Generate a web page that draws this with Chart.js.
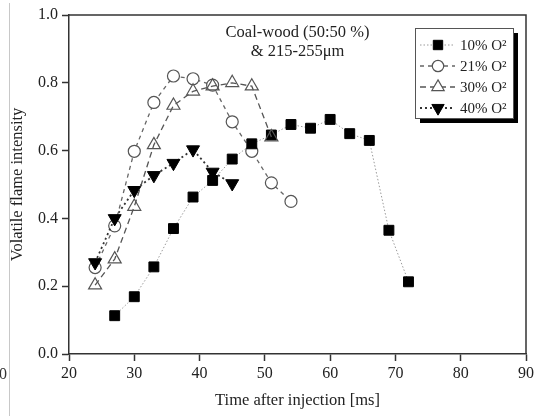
<!DOCTYPE html>
<html><head><meta charset="utf-8">
<script src="https://cdn.jsdelivr.net/npm/chart.js@4.4.1/dist/chart.umd.min.js"></script>
<style>html,body{margin:0;padding:0;background:#fff;}#wrap{width:539px;height:416px;}</style>
</head><body><div id="wrap"><canvas id="c" width="539" height="416"></canvas></div>
<script>
// ---- data ----
const xTicks = [20, 30, 40, 50, 60, 70, 80, 90];
const yTicks = [0, 0.2, 0.4, 0.6, 0.8, 1.0];
const t10 = [27, 30, 33, 36, 39, 42, 45, 48, 51, 54, 57, 60, 63, 66, 69, 72];
const v10 = [0.113, 0.169, 0.257, 0.370, 0.463, 0.512, 0.575, 0.620, 0.646, 0.677, 0.666, 0.692, 0.650, 0.630, 0.365, 0.213];
const t21 = [24, 27, 30, 33, 36, 39, 42, 45, 48, 51, 54];
const v21 = [0.255, 0.378, 0.598, 0.742, 0.820, 0.812, 0.793, 0.685, 0.598, 0.505, 0.450];
const t30 = [24, 27, 30, 33, 36, 39, 42, 45, 48, 51];
const v30 = [0.203, 0.280, 0.435, 0.617, 0.733, 0.775, 0.790, 0.800, 0.790, 0.640];
const t40 = [24, 27, 30, 33, 36, 39, 42, 45];
const v40 = [0.270, 0.400, 0.483, 0.527, 0.563, 0.603, 0.537, 0.503];
const seriesLabels = ['10% O²', '21% O²', '30% O²', '40% O²'];
const noteLines = ['Coal-wood (50:50 %)', '& 215-255μm'];
const xTitle = 'Time after injection [ms]';
const yTitle = 'Volatile flame intensity';
const strayText = '0';

const FONT = '"Liberation Serif", "Times New Roman", serif';
Chart.defaults.font.family = FONT;
Chart.defaults.font.size = 16;
Chart.defaults.color = '#222';

function pts(xs, ys) { return xs.map((x, i) => ({x: x, y: ys[i]})); }

const datasets = [
  {label: seriesLabels[0], data: pts(t10, v10), order: 2,
   borderColor: '#9a9a9a', borderWidth: 1, borderDash: [1.5, 2],
   pointStyle: 'rect', pointRadius: 7, pointBackgroundColor: '#000', pointBorderColor: '#000', pointBorderWidth: 1},
  {label: seriesLabels[1], data: pts(t21, v21), order: 3,
   borderColor: '#666', borderWidth: 1.3, borderDash: [4, 4],
   pointStyle: 'circle', pointRadius: 6, pointBackgroundColor: '#fff', pointBorderColor: '#555', pointBorderWidth: 1.2},
  {label: seriesLabels[2], data: pts(t30, v30), order: 0,
   borderColor: '#555', borderWidth: 1.3, borderDash: [6, 4],
   pointStyle: 'triangle', pointRadius: 7.5, pointBackgroundColor: 'rgba(255,255,255,0)', pointBorderColor: '#555', pointBorderWidth: 1.2},
  {label: seriesLabels[3], data: pts(t40, v40), order: 1,
   borderColor: '#333', borderWidth: 1.8, borderDash: [2, 3],
   pointStyle: 'triangle', pointRotation: 180, pointRadius: 7.5, pointBackgroundColor: '#000', pointBorderColor: '#000', pointBorderWidth: 1}
];
datasets.forEach(d => { d.showLine = true; d.fill = false; d.tension = 0; d.pointHoverRadius = d.pointRadius; });

function marker(ctx, style, rot, r, x, y, fillC, strokeC, lw) {
  ctx.save();
  ctx.fillStyle = fillC; ctx.strokeStyle = strokeC; ctx.lineWidth = lw; ctx.setLineDash([]);
  ctx.beginPath();
  if (style === 'rect') {
    const s = Math.SQRT1_2 * r; ctx.rect(x - s, y - s, 2 * s, 2 * s);
  } else if (style === 'circle') {
    ctx.arc(x, y, r, 0, Math.PI * 2);
  } else {
    let a = (rot || 0) * Math.PI / 180;
    ctx.moveTo(x + Math.sin(a) * r, y - Math.cos(a) * r);
    a += 2 * Math.PI / 3; ctx.lineTo(x + Math.sin(a) * r, y - Math.cos(a) * r);
    a += 2 * Math.PI / 3; ctx.lineTo(x + Math.sin(a) * r, y - Math.cos(a) * r);
    ctx.closePath();
  }
  ctx.fill(); ctx.stroke();
  ctx.restore();
}

const decor = {
  id: 'decor',
  beforeDraw(chart) {
    const ctx = chart.ctx;
    ctx.save();
    ctx.strokeStyle = '#c8c8c8'; ctx.lineWidth = 1;
    ctx.beginPath(); ctx.moveTo(9.5, 3); ctx.lineTo(9.5, 416); ctx.stroke();
    ctx.fillStyle = '#333'; ctx.font = '16px ' + FONT; ctx.textAlign = 'left'; ctx.textBaseline = 'middle';
    ctx.fillText(strayText, -1, 375);
    ctx.restore();
  },
  afterDraw(chart) {
    const ctx = chart.ctx, a = chart.chartArea;
    ctx.save();
    ctx.strokeStyle = '#333'; ctx.lineWidth = 1.5;
    ctx.beginPath(); ctx.moveTo(a.left, a.top); ctx.lineTo(a.right, a.top); ctx.lineTo(a.right, a.bottom); ctx.stroke();
    ctx.fillStyle = '#222'; ctx.font = '16.5px ' + FONT; ctx.textAlign = 'center'; ctx.textBaseline = 'alphabetic';
    const cx = (a.left + a.right) / 2;
    ctx.fillText(noteLines[0], cx, a.top + 22);
    ctx.fillText(noteLines[1], cx, a.top + 41);
    const bx = a.right - 111, by = a.top + 13, bw = 98, bh = 90;
    ctx.fillStyle = '#000';
    ctx.fillRect(bx + 5, by + 5, bw, bh);
    ctx.fillStyle = '#fff';
    ctx.fillRect(bx, by, bw, bh);
    ctx.strokeStyle = '#555'; ctx.lineWidth = 1;
    ctx.strokeRect(bx + 0.5, by + 0.5, bw, bh);
    chart.data.datasets.forEach((d, i) => {
      const yy = by + 17 + i * 21;
      ctx.save();
      ctx.strokeStyle = d.borderColor; ctx.lineWidth = d.borderWidth; ctx.setLineDash(d.borderDash || []);
      ctx.beginPath(); ctx.moveTo(bx + 5, yy); ctx.lineTo(bx + 40, yy); ctx.stroke();
      ctx.restore();
      marker(ctx, d.pointStyle, d.pointRotation, d.pointRadius * 0.95, bx + 23, yy,
             d.pointStyle === 'triangle' && !d.pointRotation ? '#fff' : d.pointBackgroundColor,
             d.pointBorderColor, d.pointBorderWidth);
      ctx.fillStyle = '#222'; ctx.font = '15px ' + FONT; ctx.textAlign = 'left'; ctx.textBaseline = 'alphabetic';
      ctx.fillText(d.label, bx + 45, yy + 5);
    });
    ctx.restore();
  }
};

new Chart(document.getElementById('c'), {
  type: 'scatter',
  data: {datasets: datasets},
  options: {
    responsive: false, animation: false, devicePixelRatio: 1,
    layout: {padding: {left: 0, right: 13, top: 15, bottom: 0}},
    plugins: {legend: {display: false}, tooltip: {enabled: false}},
    scales: {
      x: {
        type: 'linear', min: 20, max: 90,
        afterBuildTicks: s => { s.ticks = xTicks.map(v => ({value: v})); },
        afterFit: s => { s.height = 62; },
        ticks: {padding: 3, color: '#222', maxRotation: 0, autoSkip: false, font: {size: 16}},
        grid: {drawOnChartArea: false, drawTicks: true, tickLength: 7, tickColor: '#333', tickWidth: 1.5},
        border: {display: true, color: '#333', width: 1.5},
        title: {display: true, text: xTitle, color: '#222', font: {size: 16.5}, padding: {top: 0, bottom: 5}}
      },
      y: {
        type: 'linear', min: 0, max: 1,
        afterBuildTicks: s => { s.ticks = yTicks.map(v => ({value: v})); },
        afterFit: s => { s.width = 69; },
        ticks: {padding: 4, color: '#222', font: {size: 16}, callback: v => Number(v).toFixed(1)},
        grid: {drawOnChartArea: false, drawTicks: true, tickLength: 7, tickColor: '#333', tickWidth: 1.5},
        border: {display: true, color: '#333', width: 1.5},
        title: {display: true, text: yTitle, color: '#222', font: {size: 16.5}, padding: {top: 8, bottom: 0}}
      }
    }
  },
  plugins: [decor]
});
</script>
</body></html>
